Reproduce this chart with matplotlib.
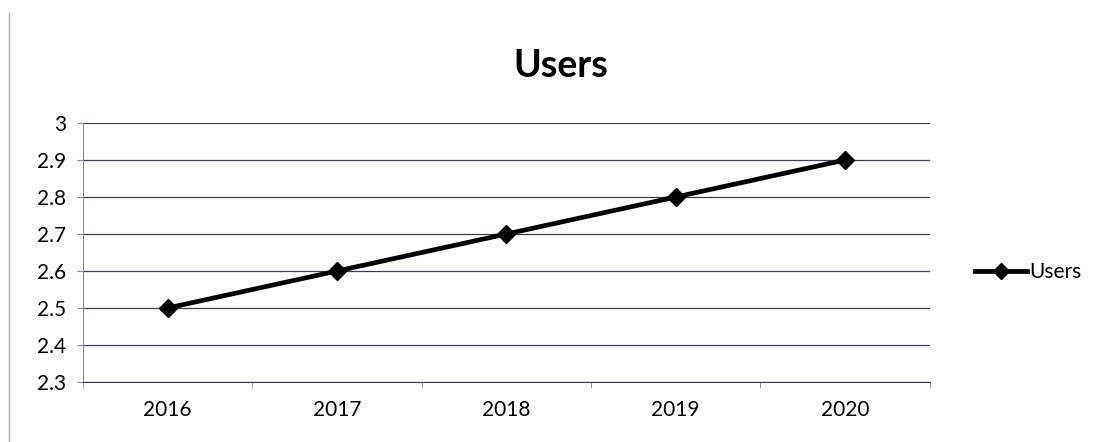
import matplotlib.pyplot as plt
from matplotlib.lines import Line2D

# datos del grafico
anios = ["2016", "2017", "2018", "2019", "2020"]
usuarios = [2.5, 2.6, 2.7, 2.8, 2.9]
y_ticks = [2.3, 2.4, 2.5, 2.6, 2.7, 2.8, 2.9, 3.0]
y_labels = ["2.3", "2.4", "2.5", "2.6", "2.7", "2.8", "2.9", "3"]

plt.rcParams['font.family'] = ['Lato', 'DejaVu Sans']

fig = plt.figure(figsize=(10.99, 4.42), dpi=100)
ax = fig.add_axes([0.0755, 0.1357, 0.7705, 0.586])

x = list(range(len(anios)))
ax.plot(x, usuarios, color='black', linewidth=3.4, marker='D', markersize=9.5,
        label='Users', zorder=3)

ax.set_xlim(-0.5, len(anios) - 0.5)
ax.set_ylim(2.3, 3.0)
ax.set_yticks(y_ticks)
ax.set_yticklabels(y_labels, fontsize=15)
ax.set_xticks(x)
ax.set_xticklabels(anios, fontsize=15)
ax.tick_params(axis='x', length=0, pad=13)
ax.set_xticks([i - 0.5 for i in range(len(anios) + 1)], minor=True)
ax.tick_params(axis='x', which='minor', length=4, color='#888888', direction='out')
ax.tick_params(axis='y', length=4, color='#888888', pad=8)

ax.grid(axis='y', color='#3a3e5e', linewidth=0.9)
ax.set_axisbelow(True)
for s in ['top', 'right']:
    ax.spines[s].set_visible(False)
ax.spines['left'].set_color('#888888')
ax.spines['bottom'].set_color('#3a3e5e')

fig.text(0.51, 0.85, 'Users', ha='center', va='center', fontsize=27, fontweight='bold')

handle = Line2D([], [], color='black', linewidth=3.4, marker='D', markersize=8)
fig.legend([handle], ['Users'], loc='center left', bbox_to_anchor=(0.87, 0.385),
           frameon=False, fontsize=15, handlelength=2.5, handletextpad=0.1)

# borde del grafico
fig.add_artist(Line2D([0.008, 0.008], [0.0, 0.97], color='#aaaaaa', linewidth=1))

fig.savefig('out.png', dpi=100)
